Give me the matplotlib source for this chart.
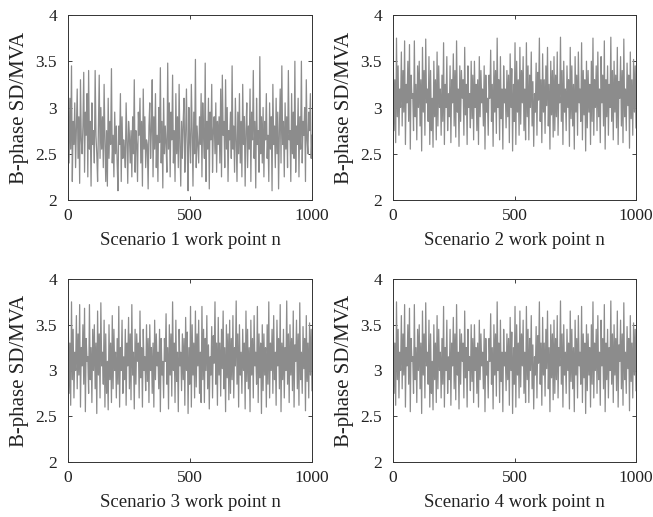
import numpy as np
import matplotlib
matplotlib.use("Agg")
import matplotlib.pyplot as plt

plt.rcParams['font.family'] = ['Liberation Serif', 'DejaVu Serif']

x_ticks = [0, 500, 1000]
y_ticks = [2, 2.5, 3, 3.5, 4]
y_tick_labels = ["2", "2.5", "3", "3.5", "4"]
x_labels = ["Scenario 1 work point n", "Scenario 2 work point n",
            "Scenario 3 work point n", "Scenario 4 work point n"]
y_label = "B-phase SD/MVA"

scenario1 = [
    2.95, 2.40, 3.10, 2.55, 3.45, 2.20, 2.85, 2.60, 3.05, 2.35, 2.75, 3.20, 2.45, 2.90, 2.18, 3.30, 2.65, 2.50, 2.80, 3.38,
    2.30, 2.95, 2.70, 3.15, 2.25, 3.40, 2.55, 2.85, 2.15, 3.05, 2.60, 2.75, 2.40, 3.40, 2.70, 2.50, 2.20, 2.80, 3.35, 2.45,
    3.00, 2.55, 2.90, 2.35, 3.25, 2.65, 2.20, 2.75, 2.15, 3.10, 2.45, 2.85, 2.60, 3.42, 2.40, 2.70, 2.25, 2.95, 2.50, 2.80,
    2.40, 2.10, 2.80, 2.60, 3.15, 2.20, 2.90, 2.45, 2.65, 2.55, 2.35, 3.05, 2.65, 2.18, 2.85, 2.70, 2.40, 2.75, 2.25, 2.90,
    2.50, 3.30, 2.30, 2.75, 2.60, 2.20, 2.95, 2.70, 3.10, 2.40, 2.85, 2.15, 3.20, 2.55, 2.90, 2.35, 2.65, 2.60, 2.12, 2.80,
    3.05, 2.45, 2.75, 3.30, 2.25, 2.90, 2.55, 3.15, 2.35, 2.70, 2.20, 3.00, 2.62, 3.43, 2.40, 2.85, 2.13, 3.10, 2.50, 2.80,
    2.60, 2.30, 3.48, 2.55, 3.05, 2.25, 2.95, 2.65, 3.35, 2.40, 2.75, 2.20, 3.15, 2.50, 2.90, 2.35, 3.25, 2.60, 2.15, 2.85,
    2.45, 2.85, 3.10, 2.30, 2.70, 3.20, 2.55, 2.10, 3.00, 2.65, 2.40, 3.25, 2.75, 2.15, 2.95, 2.50, 3.52, 2.35, 2.80, 2.60,
    2.40, 2.90, 2.60, 3.15, 2.25, 3.05, 2.70, 2.45, 3.48, 2.20, 2.85, 2.55, 3.10, 2.12, 2.95, 2.65, 3.25, 2.30, 2.75, 2.90,
    2.50, 3.05, 2.30, 2.85, 2.60, 2.90, 2.40, 3.20, 2.25, 3.35, 2.70, 2.85, 2.35, 3.30, 2.55, 3.00, 2.20, 2.75, 2.65, 2.95,
    2.45, 3.45, 2.55, 2.80, 2.30, 3.10, 2.65, 2.20, 2.95, 2.50, 3.15, 2.40, 2.85, 2.25, 3.25, 2.60, 2.90, 2.15, 2.75, 3.05,
    2.35, 2.80, 2.55, 3.20, 2.20, 2.95, 2.65, 3.40, 2.45, 2.85, 2.13, 3.10, 2.60, 2.75, 2.30, 3.55, 2.50, 2.90, 2.40, 3.00,
    2.25, 2.85, 2.65, 3.15, 2.45, 2.70, 2.20, 3.05, 2.55, 2.90, 2.10, 3.25, 2.60, 2.80, 2.35, 3.10, 2.50, 2.95, 2.12, 2.75,
    3.20, 2.40, 3.45, 2.60, 2.85, 2.25, 3.05, 2.55, 2.90, 2.35, 3.40, 2.65, 2.75, 2.20, 3.15, 2.50, 2.95, 2.45, 3.50, 2.30,
    2.80, 2.60, 3.10, 2.25, 2.90, 2.55, 3.50, 2.40, 2.85, 2.70, 3.00, 2.20, 3.30, 2.65, 2.50, 2.95, 2.75, 3.15, 2.45, 2.70,
]

scenario2 = [
    3.55, 2.75, 3.30, 2.62, 3.75, 2.90, 3.45, 2.70, 3.20, 3.00, 3.60, 2.80, 3.40, 2.95, 3.72, 2.60, 3.25, 3.05, 3.50, 2.85,
    3.68, 2.55, 3.35, 3.10, 3.15, 2.75, 3.72, 2.90, 3.25, 2.65, 3.45, 3.00, 3.50, 2.80, 3.30, 2.53, 3.65, 2.95, 3.40, 2.70,
    3.74, 3.05, 3.20, 2.85, 3.55, 2.60, 3.40, 2.75, 3.10, 2.57, 3.50, 2.90, 3.30, 2.65, 3.60, 2.80, 3.45, 3.00, 3.20, 2.70,
    3.35, 2.85, 3.70, 2.60, 3.25, 3.00, 3.55, 2.75, 3.15, 2.90, 3.45, 2.62, 3.30, 3.05, 3.58, 2.80, 3.40, 2.68, 3.72, 2.95,
    3.20, 2.58, 3.45, 2.85, 3.40, 3.10, 3.30, 2.70, 3.65, 2.92, 3.25, 2.60, 3.45, 3.00, 3.15, 2.78, 3.50, 2.88, 3.35, 2.65,
    3.50, 3.00, 3.25, 2.75, 3.30, 2.60, 3.55, 2.90, 3.40, 3.05, 3.20, 2.80, 3.45, 2.55, 3.35, 2.95, 3.10, 2.70, 3.35, 3.10,
    3.62, 2.85, 3.25, 2.58, 3.50, 2.95, 3.40, 2.72, 3.75, 3.00, 3.30, 2.65, 3.55, 2.88, 3.20, 2.55, 3.45, 3.05, 3.20, 2.78,
    3.40, 2.90, 3.35, 2.62, 3.58, 3.00, 3.42, 2.53, 3.25, 2.85, 3.70, 2.60, 3.50, 2.95, 3.30, 2.70, 3.65, 2.82, 3.40, 3.05,
    3.55, 2.75, 3.20, 2.65, 3.70, 2.90, 3.45, 2.65, 3.35, 3.00, 3.60, 2.80, 3.28, 2.58, 3.15, 2.95, 3.48, 2.70, 3.38, 3.08,
    3.75, 2.85, 3.30, 2.62, 3.58, 2.95, 3.30, 2.72, 3.45, 3.02, 3.65, 2.80, 3.25, 2.55, 3.50, 2.92, 3.40, 2.68, 3.55, 2.75,
    3.35, 2.90, 3.60, 2.70, 3.25, 3.05, 3.76, 2.85, 3.40, 2.60, 3.50, 2.95, 3.20, 2.75, 3.45, 3.00, 3.30, 2.58, 3.65, 2.88,
    3.45, 2.80, 3.25, 2.55, 3.55, 2.95, 3.35, 2.70, 3.60, 3.05, 3.20, 2.85, 3.70, 2.65, 3.40, 2.92, 3.30, 2.53, 3.50, 2.78,
    3.40, 2.95, 3.25, 2.60, 3.50, 2.85, 3.75, 2.70, 3.30, 3.00, 3.45, 2.75, 3.60, 2.90, 3.20, 2.62, 3.55, 3.05, 3.35, 2.80,
    3.72, 2.55, 3.30, 2.90, 3.45, 2.70, 3.25, 3.00, 3.76, 2.85, 3.40, 2.65, 3.50, 2.95, 3.35, 2.78, 3.65, 2.60, 3.28, 3.10,
    3.55, 2.80, 3.40, 2.62, 3.74, 2.90, 3.20, 2.75, 3.48, 3.02, 3.35, 2.56, 3.60, 2.88, 3.30, 2.70, 3.52, 2.95, 3.45, 2.78,
]

scenario3 = list(scenario2)
scenario4 = list(scenario2)

series = [scenario1, scenario2, scenario3, scenario4]

W, H = 653, 517
fig = plt.figure(figsize=(W / 100, H / 100), dpi=100)

# axes boxes in pixels: left, top, right, bottom
boxes = [(68, 15, 312, 200), (393, 15, 636, 200),
         (68, 279, 312, 462), (393, 279, 636, 462)]

for box, data, xl in zip(boxes, series, x_labels):
    l, t, r, b = box
    w_px, h_px = r - l, b - t
    ax = fig.add_axes([l / W, 1 - b / H, w_px / W, h_px / H])
    n = len(data)
    xs = np.linspace(1, 1000, n)
    ax.plot(xs, data, color='#8c8c8c', linewidth=0.9)
    ax.set_xlim(0, 1000)
    ax.set_ylim(2, 4)
    ax.set_xticks(x_ticks)
    ax.set_yticks(y_ticks)
    ax.set_yticklabels(y_tick_labels)
    ax.tick_params(direction='in', top=True, right=True, length=3,
                   width=0.6, labelsize=12.5, colors='#222222')
    ax.tick_params(axis='y', pad=8)
    ax.tick_params(axis='x', pad=6)
    for s in ax.spines.values():
        s.set_linewidth(0.7)
        s.set_color('#333333')
    ax.set_xlabel(xl, fontsize=13.5, color='#222222')
    ax.xaxis.set_label_coords(0.5, -32 / h_px)
    ax.set_ylabel(y_label, fontsize=15, color='#222222')
    ax.yaxis.set_label_coords(-39 / w_px, 0.5)

fig.savefig("out.png", dpi=100)
